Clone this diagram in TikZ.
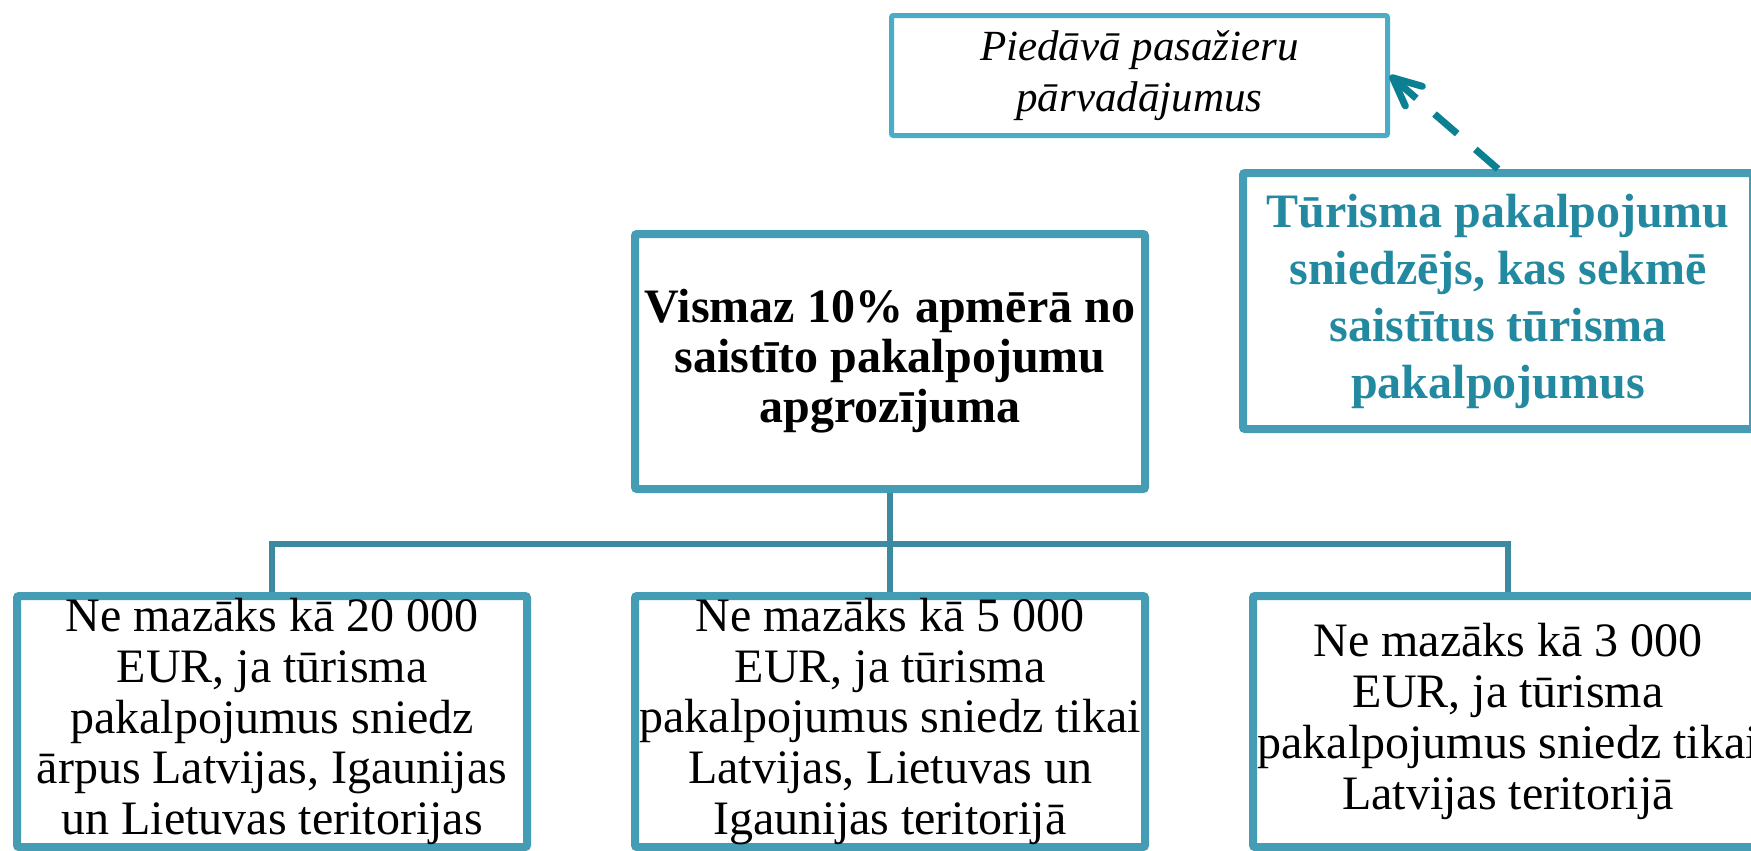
\documentclass[tikz,border=0pt]{standalone}
\usepackage{fontspec}
\setmainfont{Liberation Serif}
\usetikzlibrary{arrows.meta, positioning, shadows}

\definecolor{boxrim}{HTML}{459CB5}
\definecolor{offerrim}{HTML}{4BACC6}
\definecolor{linkcol}{HTML}{3B8AA0}
\definecolor{arrowcol}{HTML}{0A8092}
\definecolor{tealtext}{HTML}{2289A0}

\tikzset{
  rim/.style={draw=boxrim, line width=4pt, rounded corners=1pt, fill=white,
    inner sep=0pt, align=center, minimum width=255pt,
    drop shadow={shadow xshift=1pt, shadow yshift=-1.5pt, fill=black, opacity=0.22}},
  thinrim/.style={draw=offerrim, line width=2.5pt, rounded corners=1pt, fill=white,
    inner sep=0pt, align=center},
  limit/.style={rim, minimum height=125.5pt, font=\fontsize{24}{25.4}\selectfont},
  link/.style={draw=linkcol, line width=2.8pt}
}

\begin{document}
\begin{tikzpicture}[x=0.5pt, y=-0.5pt]
\useasboundingbox (0,0) rectangle (1751,851);
\clip (0,0) rectangle (1751,851);

% top row
\node[thinrim, minimum width=248pt, minimum height=60pt,
  font=\itshape\fontsize{21.5}{25.7}\selectfont] (offer) at (1139.5,75.5)
  {Piedāvā pasažieru\\pārvadājumus};
\node[rim, minimum height=128pt, text=tealtext,
  font=\bfseries\fontsize{24}{28.5}\selectfont] (provider) at (1498,301)
  {Tūrisma pakalpojumu\\sniedzējs, kas sekmē\\saistītus tūrisma\\pakalpojumus};

% main condition
\node[rim, minimum height=127.5pt, font=\bfseries\fontsize{24}{25}\selectfont]
  (share) at (890,361.5) {Vismaz 10\% apmērā no\\saistīto pakalpojumu\\apgrozījuma};

% the three turnover limits
\node[limit] (mid) at (890,721.5)
  {Ne mazāks kā 5 000\\EUR, ja tūrisma\\pakalpojumus sniedz tikai\\Latvijas, Lietuvas un\\Igaunijas teritorijā};
\node[limit, left=50pt of mid] (abroad)
  {Ne mazāks kā 20 000\\EUR, ja tūrisma\\pakalpojumus sniedz\\ārpus Latvijas, Igaunijas\\un Lietuvas teritorijas};
\node[limit, right=50pt of mid] (home)
  {Ne mazāks kā 3 000\\EUR, ja tūrisma\\pakalpojumus sniedz tikai\\Latvijas teritorijā};

% connectors
\coordinate (bar) at (890,544);
\draw[link] (share.south) -- (mid.north);
\draw[link] (abroad.north) |- (bar) -| (home.north);

\draw[arrowcol, line width=3.5pt, dash pattern=on 15pt off 12pt,
  -{Straight Barb[length=14pt, width=13pt, round]}] (provider.north) -- (offer.east);
\end{tikzpicture}
\end{document}
